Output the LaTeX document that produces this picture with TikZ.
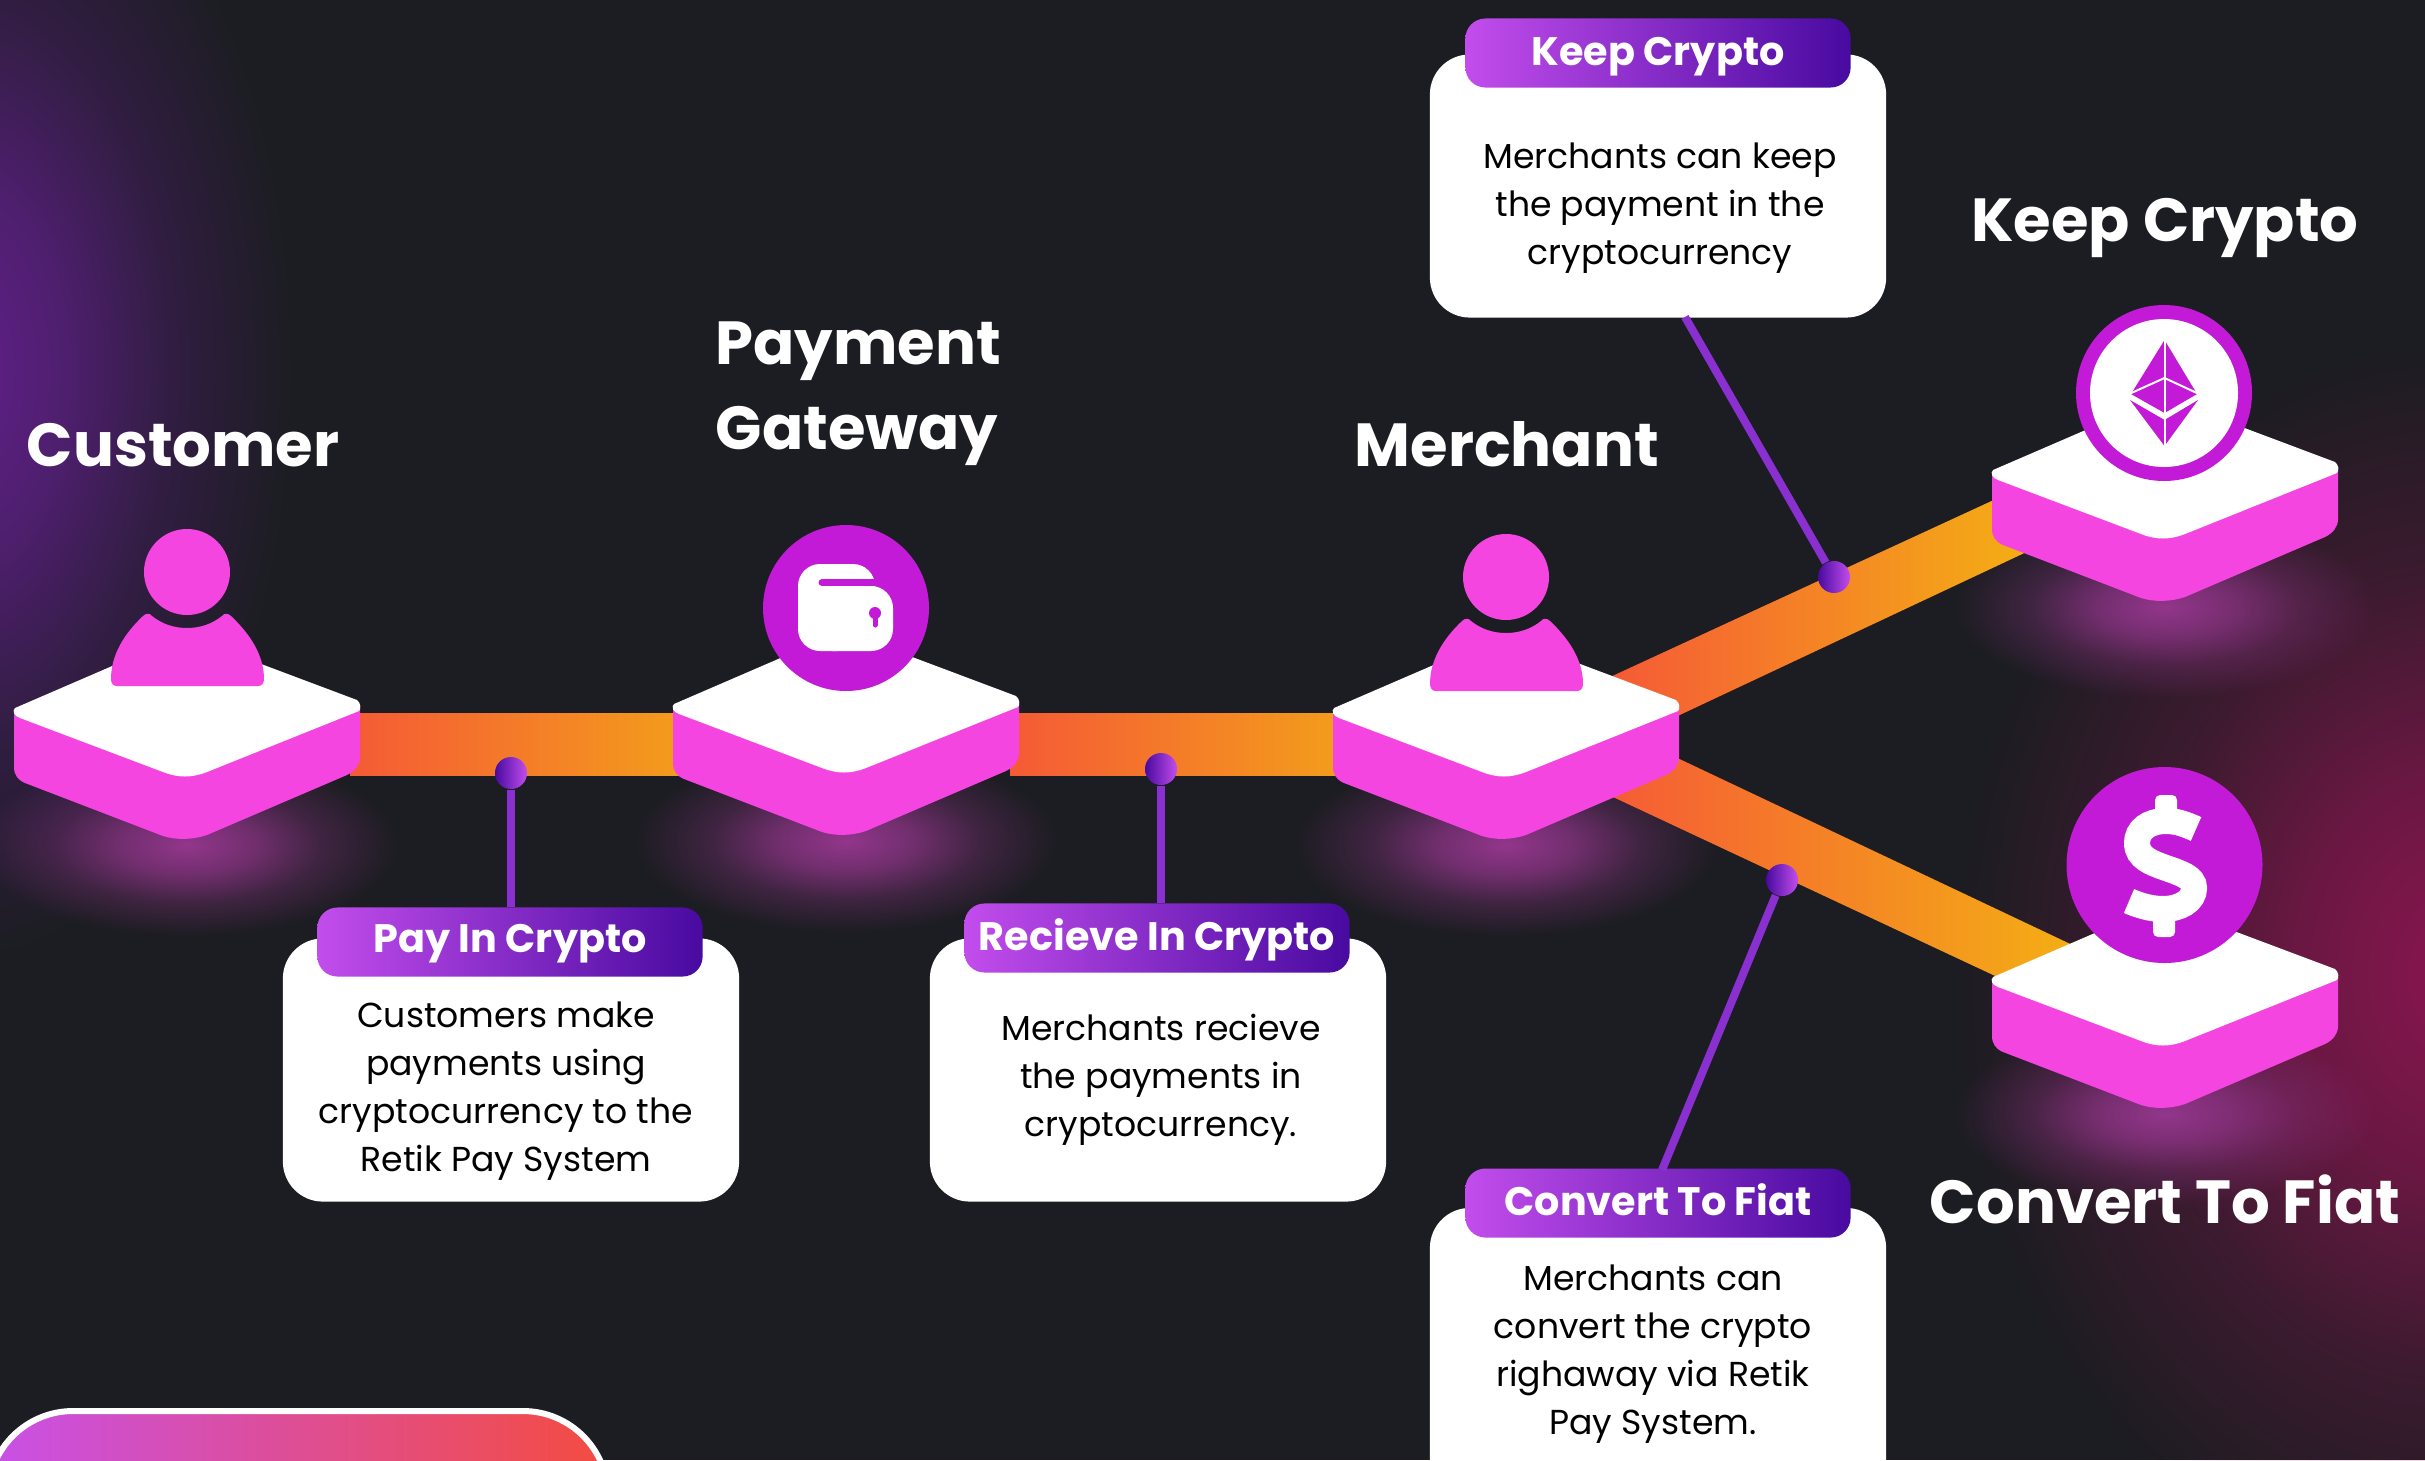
\documentclass[tikz,border=0pt]{standalone}
\usepackage{fontspec}
\setmainfont{Poppins}
\usetikzlibrary{fadings}
\definecolor{pagebg}{HTML}{1C1D22}
\definecolor{pinkA}{HTML}{F545E0}
\definecolor{purpleA}{HTML}{C21AD6}
\definecolor{barA}{HTML}{F55A36}
\definecolor{barB}{HTML}{F39E1B}
\definecolor{barC}{HTML}{F4B313}
\definecolor{tagA}{HTML}{C24DEC}
\definecolor{tagB}{HTML}{480AA0}
\definecolor{stemA}{HTML}{8A2FD0}
\definecolor{glowA}{HTML}{93368C}
\definecolor{glowL}{HTML}{62208C}
\definecolor{glowR}{HTML}{8A1650}
\definecolor{btnA}{HTML}{C850E8}
\definecolor{btnB}{HTML}{F44C40}
\pgfdeclareradialshading{softglowshade}{\pgfpointorigin}{color(0bp)=(white); color(6bp)=(white!72!black); color(12bp)=(white!30!black); color(19bp)=(black); color(50bp)=(black)}
\pgfdeclarefading{softglow}{\pgfuseshading{softglowshade}}
\tikzset{
  heading/.style={anchor=base west, text=white, font=\fontsize{17.3}{24}\selectfont\bfseries, inner sep=0pt, align=left},
  headingmid/.style={heading, anchor=base},
  card/.style={fill=white, rounded corners=0.4cm, minimum width=4.56cm, minimum height=2.63cm, inner sep=0pt},
  cardtext/.style={text=black, align=center, inner sep=0pt, font=\fontsize{9.85}{13.6}\selectfont},
  tag/.style={left color=tagA, right color=tagB, rounded corners=0.2cm, minimum width=3.85cm, minimum height=0.69cm, inner sep=0pt,
    text=white, text height=9.5pt, text depth=2.5pt, font=\fontsize{11.3}{14}\selectfont\bfseries},
  dot/.style={circle, left color=tagB, right color=tagA, minimum size=0.32cm, inner sep=0pt},
  stem/.style={stemA, line width=0.08cm},
}
% one platform, drawn at the place of the first one and shifted
\newcommand{\platform}[2]{
  \begin{scope}[shift={(#1,#2)}]
    \fill[pinkA] (14,713) -- (14,767) .. controls (14,775) and (18,780) .. (25,783)
      -- (163,836) .. controls (176,840) and (192,840) .. (207,835)
      -- (347,775) .. controls (355,771) and (360,765) .. (360,757) -- (360,705) -- cycle;
    \fill[white] (15,708) -- (184,635) -- (357,700) .. controls (361,703) and (361,709) .. (359,711)
      -- (207,772) .. controls (192,778) and (178,778) .. (163,772)
      -- (20,718) .. controls (14,716) and (12,711) .. (15,708) -- cycle;
  \end{scope}
}
\newcommand{\person}[2]{
  \begin{scope}[shift={(#1,#2)}]
    \fill[pinkA] (187,572) circle (43);
    \fill[pinkA] (117,686) .. controls (113,686) and (111,683) .. (111,679)
      .. controls (111,655) and (124,634) .. (143,616) .. controls (146,613) and (150,613) .. (152,616)
      .. controls (162,624) and (174,628) .. (187,628) .. controls (200,628) and (212,624) .. (222,616)
      .. controls (224,613) and (228,613) .. (231,616) .. controls (250,634) and (264,655) .. (264,679)
      .. controls (264,683) and (262,686) .. (258,686) -- cycle;
  \end{scope}
}
\begin{document}
\begin{tikzpicture}[x=0.01cm, y=-0.01cm]
  \useasboundingbox (0,0) rectangle (2425,1460);
  \clip (0,0) rectangle (2425,1460);
  \fill[pagebg] (0,0) rectangle (2425,1460);

  % Background glows
  \fill[glowL, path fading=softglow] (-480,-410) rectangle (400,1150);
  \fill[glowR, path fading=softglow] (1800,150) rectangle (3120,1800);

  % Glow under the platforms
  \foreach \dx/\dy in {0/0, 659/-4, 1319/0, 1978/-238, 1978/269}
    \fill[glowA, path fading=softglow] (\dx-91,\dy+725) rectangle (\dx+465,\dy+965);

  % Bars
  \fill[left color=barA, right color=barB] (350,713) rectangle (690,775);
  \fill[left color=barA, right color=barB] (1010,713) rectangle (1345,775);
  \fill[left color=barA, right color=barC] (1610,677) -- (2050,474) -- (2050,541) -- (1650,729) -- cycle;
  \fill[left color=barA, right color=barC] (1650,745) -- (2100,958) -- (2040,997) -- (1600,791) -- cycle;

  % Platforms
  \platform{0}{0}
  \platform{659}{-4}
  \platform{1319}{0}
  \platform{1978}{-238}
  \platform{1978}{269}

  % Icons
  \person{0}{0}
  \person{1319}{5}

  % wallet
  \fill[purpleA] (846,608) circle (83);
  \fill[white, rounded corners=0.22cm] (798,564) rectangle (875,640);
  \fill[white, rounded corners=0.22cm] (810,586) rectangle (893,651);
  \fill[white, rounded corners=0.22cm] (798,600) rectangle (860,651);
  \draw[purpleA, line width=0.07cm, line cap=round] (822,582.5) -- (878,582.5);
  \fill[purpleA] (875,613) circle (6);
  \draw[purpleA, line width=0.05cm, line cap=round] (875,613) -- (875,625);

  % ether
  \fill[purpleA] (2164,393) circle (88);
  \fill[white] (2164,393) circle (74);
  \fill[purpleA] (2164.5,340) -- (2131,394) -- (2164.5,413) -- (2197,394) -- cycle;
  \fill[purpleA] (2130,400) -- (2164.5,446) -- (2198,400) -- (2164.5,420) -- cycle;
  \draw[white, line width=0.02cm] (2164.5,338) -- (2164.5,448);
  \draw[white, line width=0.02cm] (2129,394) -- (2164.5,378) -- (2199,394);

  % dollar
  \fill[purpleA] (2164.5,865) circle (98);
  \draw[white, line width=0.26cm] (2196,829) .. controls (2187,825) and (2178,821) .. (2166,821)
    .. controls (2148,821) and (2137,830) .. (2137,843) .. controls (2137,858) and (2152,863) .. (2166,868)
    .. controls (2180,873) and (2194,877) .. (2194,888) .. controls (2194,901) and (2180,909) .. (2163,909)
    .. controls (2150,909) and (2138,905) .. (2129,901);
  \fill[white, rounded corners=0.05cm] (2155,795) rectangle (2177,820);
  \fill[white, rounded corners=0.05cm] (2153,912) rectangle (2175,937);

  % Headings
  \node[heading] (customer) at (26,466) {Customer};
  \node[heading] (gateway) at (715,449) {Payment\\Gateway};
  \node[heading] (merchant) at (1354,466) {Merchant};
  \node[headingmid] (keep) at (2165,241) {Keep Crypto};
  \node[headingmid] (fiat) at (2165,1223) {Convert To Fiat};

  % Cards
  \node[card] (payCard) at (511,1070) {};
  \node[card] (getCard) at (1158,1070) {};
  \node[card] (keepCard) at (1658,186) {};
  \node[card, minimum height=3.4cm] (fiatCard) at (1658,1378) {};

  \node[cardtext] (payText) at (506,1091) {Customers make\\payments using\\cryptocurrency to the\\Retik Pay System};
  \node[cardtext] (getText) at (1161,1080) {Merchants recieve\\the payments in\\cryptocurrency.};
  \node[cardtext] (keepText) at (1660,208) {Merchants can keep\\the payment in the\\cryptocurrency};
  \node[cardtext] (fiatText) at (1653,1354) {Merchants can\\convert the crypto\\righaway via Retik\\Pay System.};

  % Stems and dots
  \node[dot] (dotPay) at (511,773) {};
  \node[dot] (dotGet) at (1161,769) {};
  \node[dot] (dotKeep) at (1834,577) {};
  \node[dot] (dotFiat) at (1782,880) {};

  \node[tag, text height=8.5pt] (payTag) at (510,942) {Pay In Crypto};
  \node[tag] (getTag) at (1157,938) {Recieve In Crypto};
  \node[tag] (keepTag) at (1658,53) {Keep Crypto};
  \node[tag] (fiatTag) at (1658,1203) {Convert To Fiat};

  \coordinate (keepFoot) at (1685,317);
  \coordinate (fiatFoot) at (1662,1170);
  \draw[stem] (dotPay) -- (dotPay |- payTag.north);
  \draw[stem] (dotGet) -- (dotGet |- getTag.north);
  \draw[stem] (dotKeep) -- (keepFoot);
  \draw[stem] (dotFiat) -- (fiatFoot);

  % Button at the bottom
  \draw[white, line width=0.06cm, left color=btnA, right color=btnB, rounded corners=0.85cm] (-12,1411) rectangle (608,1560);
\end{tikzpicture}
\end{document}
